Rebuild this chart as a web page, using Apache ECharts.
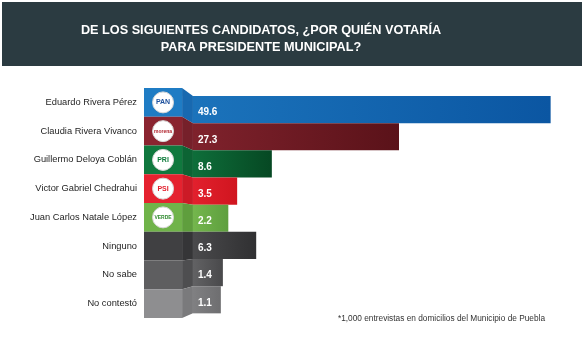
<!DOCTYPE html>
<html>
<head>
<meta charset="utf-8">
<script src="https://cdn.jsdelivr.net/npm/echarts@6/dist/echarts.min.js"></script>
<style>
  html, body { margin: 0; padding: 0; background: #fff; }
  #chart { width: 584px; height: 350px; }
</style>
</head>
<body>
<div id="chart"></div>
<script>
// datos de la encuesta
const categories = ['Eduardo Rivera Pérez', 'Claudia Rivera Vivanco', 'Guillermo Deloya Coblán', 'Victor Gabriel Chedrahui', 'Juan Carlos Natale López', 'Ninguno', 'No sabe', 'No contestó'];
const values = [49.6, 27.3, 8.6, 3.5, 2.2, 6.3, 1.4, 1.1];
const partyMarks = ['PAN', 'morena', 'PRI', 'PSI', 'VERDE', '', '', ''];

// colores por fila: cara frontal, lateral, barra (inicio / fin)
const frontColors = ['#1f7cc4', '#8a2430', '#10783e', '#e5222f', '#70b34a', '#404042', '#5e5e60', '#8e8e90'];
const sideColors  = ['#1869b0', '#76202a', '#0c6434', '#cc1a26', '#5f9e3d', '#353537', '#4e4e50', '#7a7a7c'];
const barStart    = ['#1b73bb', '#7f222c', '#0e6e3a', '#e2202d', '#74b64d', '#4a4a4c', '#626264', '#808082'];
const barEnd      = ['#0b56a2', '#5a1219', '#064823', '#d0151f', '#5e9f3e', '#303032', '#49494b', '#6e6e70'];
const markColors  = ['#1c4f9c', '#b0222c', '#0d7a3a', '#e2202d', '#2f8a2f', '', '', ''];

// geometría en unidades del eje
const FRONT = 5.6;   // ancho de la cara frontal (logo)
const BASE = 7.2;    // donde empieza la barra
const PAD = 3;       // relleno mínimo para la etiqueta

const chart = echarts.init(document.getElementById('chart'));

function renderRow(params, api) {
  const v = api.value(0);
  const i = api.value(1);
  const c = api.coord([0, i]);
  const band = api.size([0, 1])[1];
  const xFront = api.coord([FRONT, i])[0];
  const xFold = api.coord([BASE, i])[0];
  const xEnd = api.coord([BASE + PAD + v, i])[0];
  const cs = params.coordSys;
  // perspectiva: la parte derecha se ve un poco más abajo y más angosta
  const persp = y => cs.y + 8 + (y - cs.y) * 0.945;
  const lt = c[1] - band / 2, lb = c[1] + band / 2;
  const rt = persp(lt), rb = persp(lb);
  const children = [
    {
      type: 'rect',
      shape: { x: xFold, y: rt, width: xEnd - xFold, height: rb - rt },
      style: {
        fill: new echarts.graphic.LinearGradient(0, 0, 1, 0, [
          { offset: 0, color: barStart[i] },
          { offset: 1, color: barEnd[i] }
        ])
      }
    },
    {
      type: 'polygon',
      shape: { points: [[xFront, lt], [xFold, rt], [xFold, rb], [xFront, lb]] },
      style: { fill: sideColors[i] }
    },
    {
      type: 'rect',
      shape: { x: c[0], y: lt, width: xFront - c[0], height: band },
      style: { fill: frontColors[i] }
    },
    {
      type: 'text',
      x: xFold + 5,
      y: (rt + rb) / 2 + 3,
      style: {
        text: v.toFixed(1),
        fill: '#ffffff',
        font: 'bold 10px "Liberation Sans", Arial, sans-serif',
        verticalAlign: 'middle'
      }
    }
  ];
  if (partyMarks[i]) {
    const cx = (c[0] + xFront) / 2;
    children.push({
      type: 'circle',
      shape: { cx: cx, cy: c[1], r: 10.5 },
      style: { fill: '#ffffff', stroke: '#d8d8d8', lineWidth: 1 }
    });
    children.push({
      type: 'text',
      x: cx,
      y: c[1],
      style: {
        text: partyMarks[i],
        fill: markColors[i],
        font: 'bold ' + (partyMarks[i].length > 3 ? 5 : 7) + 'px "Liberation Sans", Arial, sans-serif',
        align: 'center',
        verticalAlign: 'middle'
      }
    });
  }
  return { type: 'group', children: children };
}

const option = {
  animation: false,
  grid: { left: 144, top: 88, width: 408, height: 230 },
  xAxis: { type: 'value', min: 0, max: 60, show: false },
  yAxis: {
    type: 'category',
    data: categories,
    inverse: true,
    axisLine: { show: false },
    axisTick: { show: false },
    axisLabel: {
      margin: 7,
      color: '#1e1e1e',
      fontSize: 9.3,
      fontFamily: '"Liberation Sans", Arial, sans-serif'
    }
  },
  graphic: [
    {
      type: 'rect',
      left: 2, top: 2,
      shape: { width: 580, height: 64 },
      style: { fill: '#2b3b41' }
    },
    {
      type: 'text',
      x: 261,
      y: 22,
      style: {
        text: 'DE LOS SIGUIENTES CANDIDATOS, ¿POR QUIÉN VOTARÍA\nPARA PRESIDENTE MUNICIPAL?',
        fill: '#ffffff',
        font: 'bold 12.7px "Liberation Sans", Arial, sans-serif',
        align: 'center',
        lineHeight: 17
      }
    },
    {
      type: 'text',
      x: 545,
      y: 315,
      style: {
        text: '*1,000 entrevistas en domicilios del Municipio de Puebla',
        fill: '#333333',
        font: '8.3px "Liberation Sans", Arial, sans-serif',
        align: 'right'
      }
    }
  ],
  series: [{
    type: 'custom',
    renderItem: renderRow,
    encode: { x: 0, y: 1 },
    data: values.map((v, i) => [v, i])
  }]
};

chart.setOption(option);
</script>
</body>
</html>
